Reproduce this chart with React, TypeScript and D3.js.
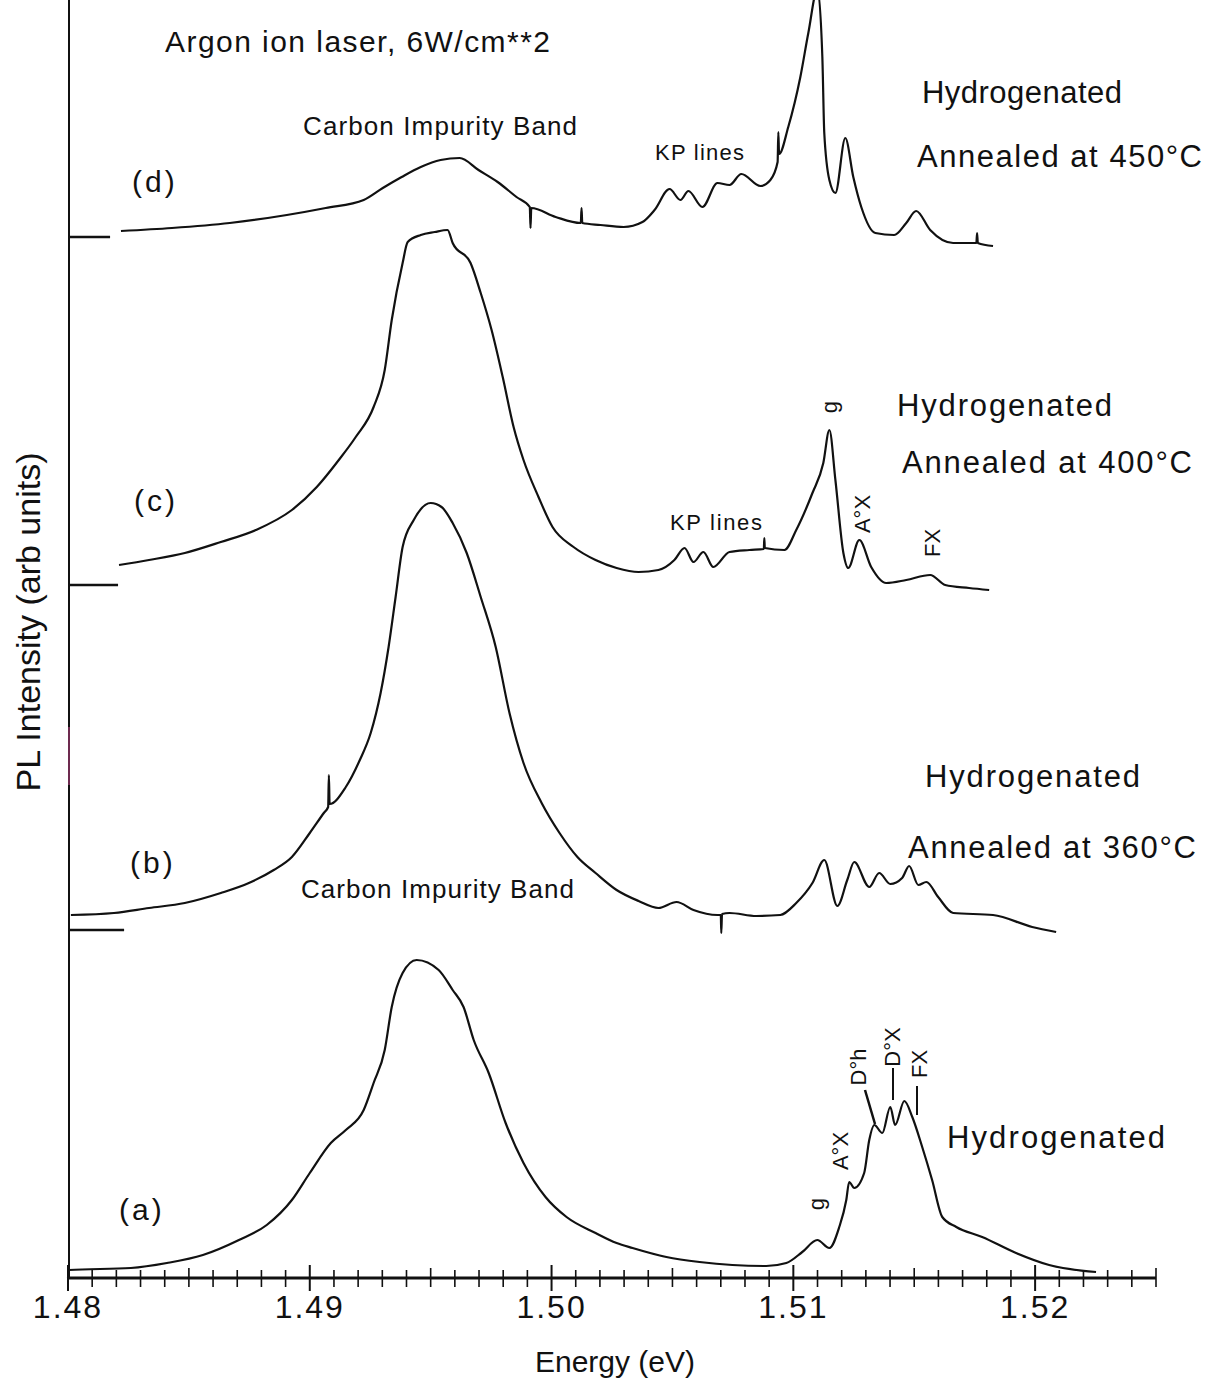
import React from 'react';
import * as d3 from 'd3';

// ---------- data (energy in eV, intensity in arb. units above each trace's baseline) ----------
const traceA: [number, number][] = [
  [1.48, 0.0], [1.48005, 0.8], [1.4826, 1.0], [1.48409, 1.5], [1.48558, 2.3], [1.48707, 3.8], [1.48822, 5.3],
  [1.48926, 7.8], [1.49, 10.5], [1.49087, 13.5], [1.49149, 14.8], [1.49223, 16.8], [1.49264, 19.5],
  [1.4931, 22.8], [1.49339, 27.1], [1.49384, 30.5], [1.49442, 31.8], [1.49533, 30.8], [1.49591, 28.8],
  [1.49636, 27.1], [1.49678, 23.8], [1.4974, 20.5], [1.4981, 15.5], [1.49884, 11.5], [1.49975, 8.1],
  [1.50062, 6.1], [1.50182, 4.5], [1.50269, 3.5], [1.50335, 3.0], [1.50475, 2.1], [1.50612, 1.6],
  [1.50748, 1.3], [1.50888, 1.2], [1.50971, 1.5], [1.51037, 2.6], [1.51099, 3.8], [1.51149, 3.0],
  [1.5119, 5.1], [1.51219, 7.8], [1.51231, 9.6], [1.51252, 9.0], [1.51293, 10.5], [1.51314, 13.8],
  [1.51335, 15.3], [1.51368, 14.5], [1.51401, 17.1], [1.51421, 15.3], [1.51459, 17.7], [1.51492, 16.1],
  [1.51533, 13.1], [1.51574, 9.8], [1.51616, 6.1], [1.51674, 5.1], [1.51781, 4.1], [1.51921, 2.5],
  [1.52058, 1.3], [1.52252, 0.6],
];

const traceB: [number, number][] = [
  [1.48012, 1.5], [1.4819, 1.7], [1.48335, 2.2], [1.48483, 2.7], [1.48632, 3.7], [1.48748, 4.7],
  [1.48851, 6.0], [1.48926, 7.3], [1.49, 9.7], [1.49058, 11.7], [1.49076, 12.3], [1.49079, 15.5],
  [1.49082, 12.6], [1.49149, 14.3], [1.49207, 17.0], [1.49252, 19.7], [1.49293, 23.7], [1.49326, 28.3],
  [1.49355, 33.3], [1.49384, 38.3], [1.4943, 41.0], [1.495, 42.7], [1.49545, 42.3], [1.49591, 40.7],
  [1.49649, 37.7], [1.49707, 33.3], [1.49769, 28.3], [1.49826, 21.7], [1.49884, 16.7], [1.49959, 12.7],
  [1.50033, 9.7], [1.50107, 7.3], [1.50182, 5.7], [1.50269, 4.0], [1.5036, 2.9], [1.50442, 2.2],
  [1.50517, 2.8], [1.50587, 2.0], [1.50686, 1.5], [1.507, 1.5], [1.50702, -0.3], [1.50705, 1.6],
  [1.50736, 1.7], [1.50847, 1.4], [1.50946, 1.5], [1.51012, 2.7], [1.51079, 4.7], [1.51128, 7.0],
  [1.51182, 2.4], [1.51223, 5.0], [1.51252, 6.8], [1.51314, 4.3], [1.51355, 5.7], [1.51401, 4.6],
  [1.5145, 5.2], [1.51479, 6.4], [1.51517, 4.5], [1.5155, 4.8], [1.51599, 3.3], [1.51661, 1.7],
  [1.51826, 1.5], [1.51988, 0.3], [1.52087, -0.2],
];

const traceC: [number, number][] = [
  [1.48211, 2.0], [1.48335, 2.5], [1.48483, 3.2], [1.48632, 4.3], [1.48777, 5.5], [1.48926, 7.5],
  [1.49029, 9.8], [1.4912, 12.5], [1.4919, 14.8], [1.49264, 17.8], [1.4931, 21.5], [1.49339, 26.5],
  [1.49384, 32.2], [1.49405, 34.3], [1.49459, 35.0], [1.49517, 35.3], [1.4957, 35.5], [1.49591, 34.2],
  [1.49665, 32.2], [1.49707, 29.2], [1.49752, 25.5], [1.49798, 20.8], [1.49843, 15.8], [1.49884, 12.5],
  [1.49946, 8.8], [1.50004, 5.8], [1.50091, 3.8], [1.50182, 2.5], [1.50269, 1.7], [1.5036, 1.3],
  [1.50442, 1.5], [1.50508, 2.5], [1.5055, 3.7], [1.50587, 2.3], [1.50628, 3.3], [1.50669, 1.8],
  [1.50736, 3.3], [1.50818, 3.5], [1.50878, 3.6], [1.5088, 4.7], [1.50882, 3.7], [1.50963, 3.5],
  [1.51012, 5.5], [1.51079, 9.2], [1.51124, 12.2], [1.51149, 15.5], [1.51174, 10.5], [1.51207, 3.2],
  [1.51227, 1.7], [1.51273, 4.5], [1.51322, 1.8], [1.51384, 0.2], [1.51467, 0.5], [1.51566, 1.0],
  [1.51628, 0.0], [1.51727, -0.3], [1.5181, -0.5],
];

const traceD: [number, number][] = [
  [1.48219, 0.6], [1.4843, 0.9], [1.48669, 1.4], [1.48905, 2.2], [1.49066, 2.9], [1.49223, 3.7],
  [1.49302, 4.9], [1.4938, 6.0], [1.49459, 7.0], [1.49541, 7.7], [1.4962, 7.9], [1.49698, 6.7],
  [1.49777, 5.5], [1.49855, 4.0], [1.4991, 3.0], [1.49913, 0.9], [1.49916, 2.9], [1.50017, 2.0],
  [1.50121, 1.4], [1.50124, 2.9], [1.50127, 1.4], [1.50202, 1.2], [1.50298, 1.0], [1.50376, 1.5],
  [1.50426, 2.7], [1.50488, 4.8], [1.50533, 3.7], [1.50566, 4.6], [1.50624, 3.0], [1.50686, 5.4],
  [1.50736, 5.2], [1.50785, 6.3], [1.50864, 5.1], [1.50905, 5.7], [1.50935, 7.5], [1.50938, 10.5],
  [1.50941, 8.3], [1.50979, 11.0], [1.51029, 16.0], [1.51062, 20.4], [1.511, 24.8], [1.5112, 18.0],
  [1.51128, 10.4], [1.51149, 5.7], [1.51174, 4.4], [1.51215, 9.9], [1.51248, 6.0], [1.51281, 3.0],
  [1.51339, 0.4], [1.51417, 0.2], [1.51467, 1.4], [1.51508, 2.6], [1.51566, 0.7], [1.51661, -0.6],
  [1.51757, -0.6], [1.5176, 0.4], [1.51763, -0.6], [1.51826, -0.9],
];

// vertical offsets of each spectrum (arb. units)
const traceOffsets = [0, 34.8, 69.3, 104.1]; // a, b, c, d
// end of the short baseline markers on the left axis (energy)
const baselineMarkerEnds = [1.48232, 1.48207, 1.48174]; // b, c, d

const tickStep = 0.001;
const majorTickValues = [1.48, 1.49, 1.5, 1.51, 1.52];
const majorTickLabels = ['1.48', '1.49', '1.50', '1.51', '1.52'];

const FONT = "'Liberation Sans', Arial, Helvetica, sans-serif";

export default function App() {
  const x = d3.scaleLinear().domain([1.48, 1.525]).range([68, 1156]);
  const y = d3.scaleLinear().domain([0, 127.8]).range([1278, 0]);
  const axisY = y(0);

  const mkLine = (off: number) =>
    d3
      .line<[number, number]>()
      .x((d) => x(d[0]))
      .y((d) => y(d[1] + off))
      .curve(d3.curveMonotoneX);

  const traces = [traceA, traceB, traceC, traceD];
  const ticks = d3.range(0, 46).map((i) => +(1.48 + i * tickStep).toFixed(3));

  const label = (
    t: string,
    px: number,
    py: number,
    fs: number,
    extra: any = {}
  ) => (
    <text x={px} y={py} fontSize={fs} fontFamily={FONT} fill="#111" {...extra}>
      {t}
    </text>
  );

  const rot = (t: React.ReactNode, cx: number, cy: number, fs = 22) => (
    <text
      transform={`translate(${cx},${cy}) rotate(-90)`}
      textAnchor="middle"
      dominantBaseline="central"
      fontSize={fs}
      fontFamily={FONT}
      fill="#111"
    >
      {t}
    </text>
  );

  return (
    <svg
      width={1215}
      height={1387}
      style={{ position: 'absolute', left: 0, top: 0, background: '#fff' }}
    >
      <rect x={0} y={0} width={1215} height={1387} fill="#fff" />

      {/* left axis */}
      <line x1={69} x2={69} y1={0} y2={axisY} stroke="#111" strokeWidth={2} />
      <line x1={69} x2={69} y1={727} y2={785} stroke="#6d2a4f" strokeWidth={2} />

      {/* baseline markers */}
      {baselineMarkerEnds.map((e, i) => (
        <line
          key={i}
          x1={69}
          x2={x(e)}
          y1={y(traceOffsets[i + 1])}
          y2={y(traceOffsets[i + 1])}
          stroke="#111"
          strokeWidth={2.5}
        />
      ))}

      {/* bottom axis */}
      <line x1={x(1.48)} x2={x(1.525)} y1={axisY} y2={axisY} stroke="#111" strokeWidth={3} />
      {ticks.map((t) => {
        const major = majorTickValues.some((m) => Math.abs(m - t) < 1e-6);
        const mid = !major && Math.abs(((t * 1000) % 5)) < 1e-6;
        const up = major ? 13 : mid ? 10 : 8;
        const down = major ? 13 : 9;
        return (
          <line
            key={t}
            x1={x(t)}
            x2={x(t)}
            y1={axisY - up}
            y2={axisY + down}
            stroke="#111"
            strokeWidth={major ? 2 : 1.6}
          />
        );
      })}
      {majorTickValues.map((v, i) => (
        <text
          key={v}
          x={x(v)}
          y={1318}
          textAnchor="middle"
          fontSize={32}
          fontFamily={FONT}
          letterSpacing={2}
          fill="#111"
        >
          {majorTickLabels[i]}
        </text>
      ))}
      <text x={615} y={1372} textAnchor="middle" fontSize={30} fontFamily={FONT} fill="#111">
        Energy (eV)
      </text>
      <text
        transform="translate(28,622) rotate(-90)"
        textAnchor="middle"
        dominantBaseline="central"
        fontSize={34}
        fontFamily={FONT}
        fill="#111"
      >
        PL Intensity (arb units)
      </text>

      {/* spectra */}
      {traces.map((tr, i) => (
        <path
          key={i}
          d={mkLine(traceOffsets[i])(tr) || ''}
          fill="none"
          stroke="#111"
          strokeWidth={2.2}
          strokeLinejoin="round"
        />
      ))}

      {/* (d) annotations */}
      {label('Argon ion laser, 6W/cm**2', 165, 52, 30, { textLength: 385, lengthAdjust: 'spacing' })}
      {label('Carbon Impurity Band', 303, 135, 26, { textLength: 274, lengthAdjust: 'spacing' })}
      {label('(d)', 132, 192, 30, { letterSpacing: 3 })}
      {label('KP lines', 655, 160, 22, { textLength: 89, lengthAdjust: 'spacing' })}
      {label('Hydrogenated', 922, 103, 31, { textLength: 200, lengthAdjust: 'spacing' })}
      {label('Annealed at 450°C', 917, 167, 31, { textLength: 285, lengthAdjust: 'spacing' })}

      {/* (c) annotations */}
      {label('(c)', 134, 511, 30, { letterSpacing: 3 })}
      {label('KP lines', 670, 530, 22, { textLength: 92, lengthAdjust: 'spacing' })}
      {rot('g', 829, 407)}
      {label('Hydrogenated', 897, 416, 31, { textLength: 215, lengthAdjust: 'spacing' })}
      {label('Annealed at 400°C', 902, 473, 31, { textLength: 290, lengthAdjust: 'spacing' })}
      {rot('A°X', 862, 514)}
      {rot('FX', 932, 543)}

      {/* (b) annotations */}
      {label('(b)', 130, 873, 30, { letterSpacing: 3 })}
      {label('Carbon Impurity Band', 301, 898, 26, { textLength: 273, lengthAdjust: 'spacing' })}
      {label('Hydrogenated', 925, 787, 31, { textLength: 215, lengthAdjust: 'spacing' })}
      {label('Annealed at 360°C', 908, 858, 31, { textLength: 288, lengthAdjust: 'spacing' })}

      {/* (a) annotations */}
      {label('(a)', 119, 1220, 30, { letterSpacing: 3 })}
      {label('Hydrogenated', 947, 1148, 31, { textLength: 218, lengthAdjust: 'spacing' })}
      {rot('g', 816, 1204)}
      {rot('A°X', 840, 1151)}
      {rot('D°h', 858, 1067)}
      {rot('D°X', 892, 1047)}
      {rot('FX', 919, 1064)}
      <line x1={865} y1={1090} x2={875} y2={1124} stroke="#111" strokeWidth={2.5} />
      <line x1={893} y1={1068} x2={893} y2={1100} stroke="#111" strokeWidth={2} />
      <line x1={917} y1={1086} x2={917} y2={1115} stroke="#111" strokeWidth={2} />
    </svg>
  );
}
